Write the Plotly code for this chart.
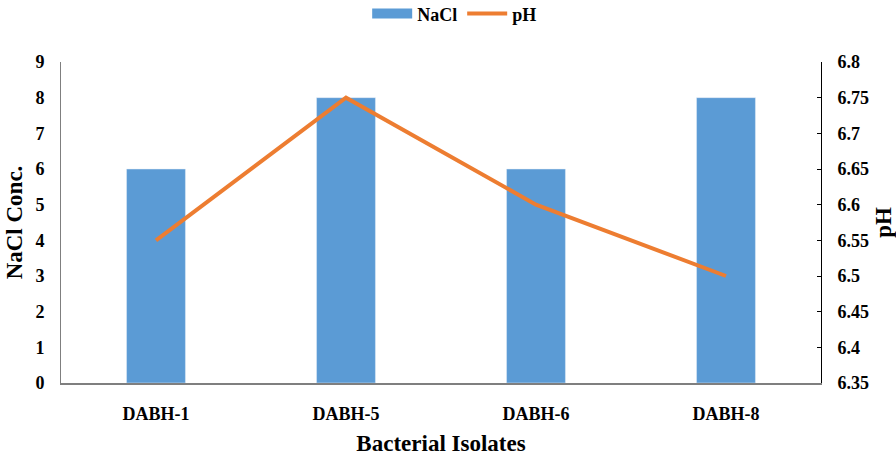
import plotly.graph_objects as go

isolates = ["DABH-1", "DABH-5", "DABH-6", "DABH-8"]
nacl = [6, 8, 6, 8]
ph = [6.55, 6.75, 6.6, 6.5]

FONT = "Liberation Serif, Times New Roman, DejaVu Serif, serif"
BLUE = "#5B9BD5"
ORANGE = "#ED7D31"

fig = go.Figure()
fig.add_trace(go.Bar(x=isolates, y=nacl, name="NaCl", marker_color=BLUE,
                     width=0.31, yaxis="y", showlegend=False, legendgroup="nacl"))
# wide rectangular key for the bar series
fig.add_trace(go.Scatter(x=[None], y=[None], name="NaCl", mode="lines",
                         line=dict(color=BLUE, width=12), legendgroup="nacl"))
fig.add_trace(go.Scatter(x=isolates, y=ph, name="pH", mode="lines",
                         line=dict(color=ORANGE, width=4), yaxis="y2"))

tick_font = dict(family=FONT, size=18, color="#000000", weight="bold")
title_font = dict(family=FONT, size=23, color="#000000", weight="bold")

fig.update_layout(
    width=896, height=459,
    margin=dict(l=61, r=75, t=62, b=76, autoexpand=False),
    plot_bgcolor="white", paper_bgcolor="white",
    font=dict(family=FONT, color="#000000"),
    showlegend=True,
    legend=dict(orientation="h", x=0.518, xanchor="center", y=1.15, yanchor="middle",
                font=dict(family=FONT, size=18, color="#000000", weight="bold"),
                itemwidth=40, tracegroupgap=0),
    xaxis=dict(showline=True, linecolor="#7f7f7f", linewidth=1.5,
               ticks="", tickfont=tick_font, showgrid=False,
               ticklabelstandoff=14,
               title=dict(text="Bacterial Isolates", font=title_font, standoff=12)),
    yaxis=dict(range=[0, 9], dtick=1, showline=True, linecolor="#7f7f7f",
               linewidth=1, ticks="", showgrid=False, zeroline=False,
               tickfont=tick_font, ticklabelstandoff=12,
               title=dict(text="NaCl Conc.", font=title_font, standoff=6)),
    yaxis2=dict(range=[6.35, 6.8], dtick=0.05, overlaying="y", side="right",
                showline=True, linecolor="#000000", linewidth=1,
                ticks="inside", ticklen=4, tickcolor="#000000",
                showgrid=False, zeroline=False, tickfont=tick_font,
                tickformat="~r", ticklabelstandoff=12,
                title=dict(text="pH", font=title_font, standoff=6)),
)

fig.write_html("out.html")
